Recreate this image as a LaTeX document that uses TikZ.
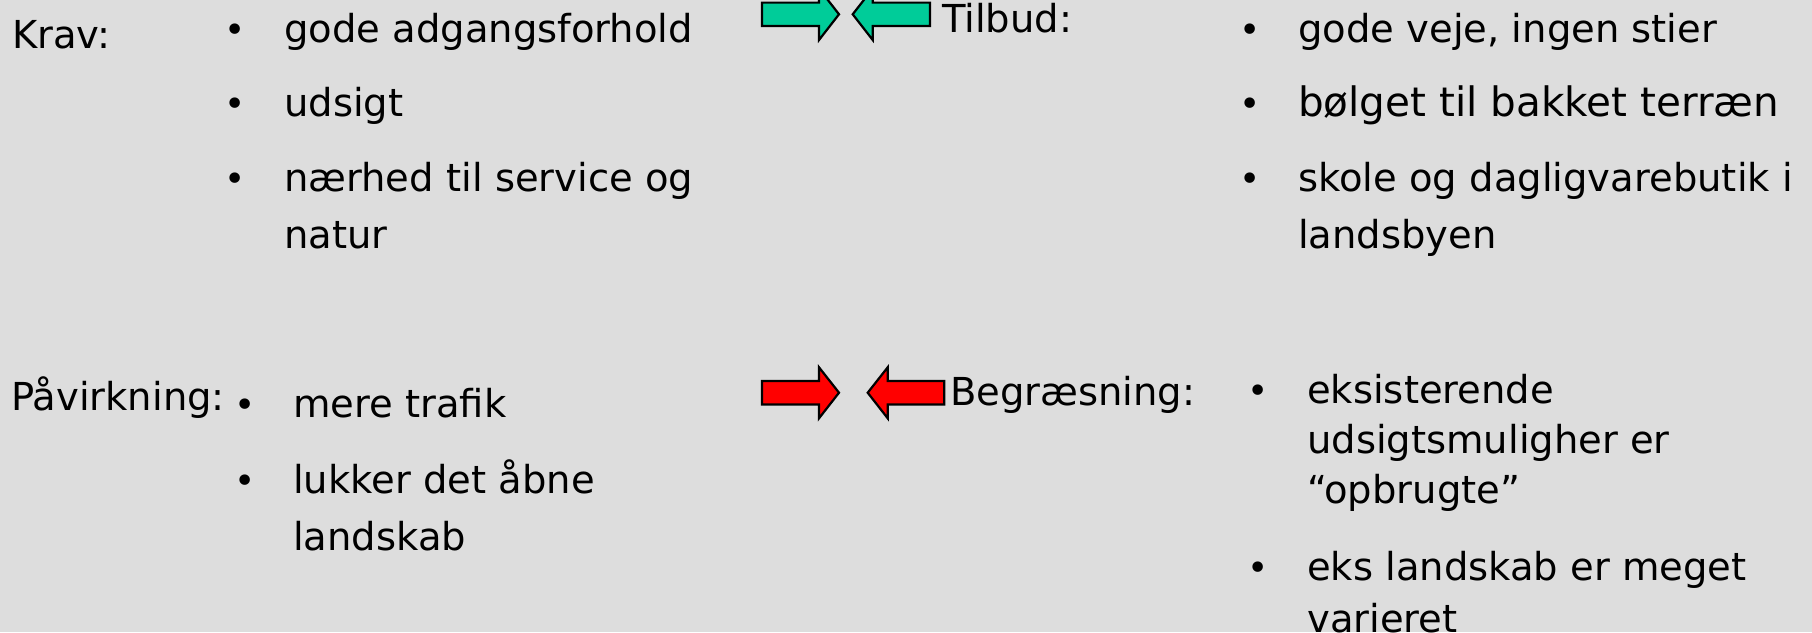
\documentclass[tikz,border=0pt]{standalone}
\usepackage{fontspec}
\setmainfont{DejaVu Sans}
\definecolor{bg}{HTML}{DDDDDD}
\definecolor{tealgreen}{HTML}{00CC99}
\definecolor{arrred}{HTML}{FF0000}
\begin{document}
\begin{tikzpicture}[x=1pt,y=-1pt,
  txt/.style={anchor=base west,inner sep=0pt,font=\fontsize{38.5}{46}\selectfont},
  bul/.style={anchor=base,inner sep=0pt,font=\fontsize{36}{36}\selectfont},
  arr/.style={draw=black,line width=2.2pt,line join=miter}]
\fill[bg] (0,0) rectangle (1812,632);
\useasboundingbox (0,0) rectangle (1812,632);

% top left
\node[txt] (krav) at (12,48) {Krav:};
\node[bul] (bk1) at (235,42) {•};
\node[bul] (bk2) at (235,116) {•};
\node[bul] (bk3) at (235,191) {•};
\node[txt] (k1) at (284,42) {gode adgangsforhold};
\node[txt] (k2) at (284,116) {udsigt};
\node[txt] (k3a) at (284,191) {nærhed til service og};
\node[txt] (k3b) at (284,248) {natur};

% arrows top
\path[arr,fill=tealgreen] (762,2.6) -- (819,2.6) -- (819,-11.4) -- (839,14.3) -- (819,40) -- (819,26) -- (762,26) -- cycle;
\path[arr,fill=tealgreen] (930,2.6) -- (872.7,2.6) -- (872.7,-11.4) -- (852.7,14.3) -- (872.7,40) -- (872.7,26) -- (930,26) -- cycle;
\node[txt] (tilbud) at (942,32) {Tilbud:};

% top right
\node[bul] (bt1) at (1250,42) {•};
\node[bul] (bt2) at (1250,116) {•};
\node[bul] (bt3) at (1250,191) {•};
\node[txt] (t1) at (1298,42) {gode veje, ingen stier};
\node[txt] (t2) at (1298,116) {\fontsize{40.5}{46}\selectfont bølget til bakket terræn};
\node[txt] (t3a) at (1298,191) {skole og dagligvarebutik i};
\node[txt] (t3b) at (1298,248) {landsbyen};

% bottom left
\node[txt] (paav) at (11,410) {Påvirkning:};
\node[bul] (bp1) at (245,417) {•};
\node[bul] (bp2) at (245,493) {•};
\node[txt] (p1) at (293,417) {mere trafik};
\node[txt] (p2a) at (293,493) {lukker det åbne};
\node[txt] (p2b) at (293,550) {landskab};

% arrows bottom
\path[arr,fill=arrred] (762,381) -- (819,381) -- (819,367.3) -- (839,392.7) -- (819,418.3) -- (819,404.5) -- (762,404.5) -- cycle;
\path[arr,fill=arrred] (944.3,381) -- (887.7,381) -- (887.7,367.3) -- (867.7,392.7) -- (887.7,418.3) -- (887.7,404.5) -- (944.3,404.5) -- cycle;
\node[txt] (begr) at (950,405) {Begræsning:};

% bottom right
\node[bul] (bb1) at (1258,403) {•};
\node[bul] (bb2) at (1258,580) {•};
\node[txt] (b1a) at (1307,403) {eksisterende};
\node[txt] (b1b) at (1307,453) {udsigtsmuligher er};
\node[txt] (b1c) at (1307,503) {“opbrugte”};
\node[txt] (b2a) at (1307,580) {eks landskab er meget};
\node[txt] (b2b) at (1307,632) {varieret};
\end{tikzpicture}
\end{document}
